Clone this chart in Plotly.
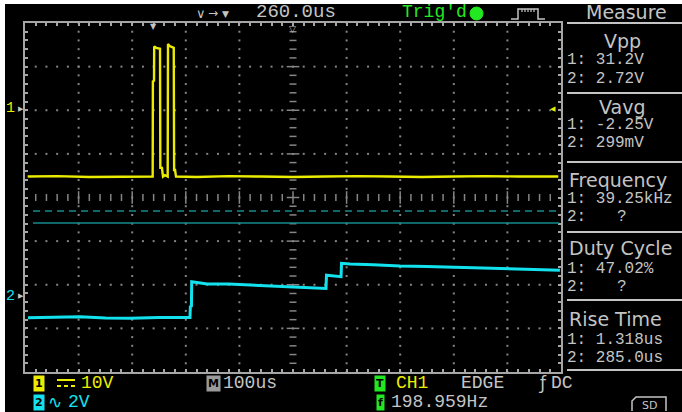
import plotly.graph_objects as go

W, H = 682, 412
PL, PR, PT, PB = 25, 561, 23, 372   # graticule box in pixels

# ---------------- data (read from the screen) ----------------
# screen time base: 100 us/div, 10 div -> 0..1000 us
ch1_time_us = [5, 60, 120, 180, 225, 238.2, 238.6, 240.7, 241.0, 245.0, 251.9, 252.5, 255.5, 257.5,
               261.0, 264.5, 266.2, 266.8, 270.0, 277.5, 278.2, 280.0, 281.7,
               320, 380, 440, 500, 560, 620, 680, 740, 800, 860, 920, 995]
ch1_volts = [-15.5, -15.4, -15.6, -15.5, -15.5, -15.5, 6.3, 6.5, 14.3, 14.0, 13.8, -13.5, -13.5, -15.5,
             -15.2, -15.5, -15.5, 14.9, 14.4, 14.0, -14.0, -14.0, -15.5,
             -15.6, -15.4, -15.5, -15.6, -15.5, -15.4, -15.5, -15.6, -15.5, -15.4, -15.5, -15.5]

ch2_time_us = [5.6, 50, 102.6, 150, 195.9, 250, 300.4, 307.8, 308.5, 310.5, 311.0, 340, 380, 419.8,
               481.3, 520, 559.7, 561.5, 562.5, 589.6, 590.5, 606.3, 650, 699.6, 750, 792.9,
               840, 886.2, 940, 998]
ch2_volts = [-0.99, -0.97, -0.95, -1.00, -1.02, -0.98, -1.00, -0.98, -0.49, -0.45, 0.66, 0.55, 0.55, 0.51,
             0.43, 0.40, 0.35, 0.35, 0.96, 0.89, 1.50, 1.47, 1.44, 1.38, 1.36, 1.33,
             1.29, 1.25, 1.22, 1.19]

ch1_scale_label = "10V"
ch2_scale_label = "2V"
timebase_label = "100us"
delay_label = "260.0us"
trig_freq_label = "198.959Hz"

measure_titles = ["Vpp", "Vavg", "Frequency", "Duty Cycle", "Rise Time"]
measure_ch1 = ["31.2V", "-2.25V", "39.25kHz", "47.02%", "1.318us"]
measure_ch2 = ["2.72V", "299mV", "?", "?", "285.0us"]

# ---------------- style constants ----------------
CH1_POS_DIV, CH1_VDIV = 2.03, 10.0
CH2_POS_DIV, CH2_VDIV = -2.26, 2.0
YEL = "#ecec00"
CYA = "#12e2ee"
GRN = "#22e822"
TXT = "#c4c4c4"
GRID = "#858585"
BORDER = "#a6a6a6"
TEAL = "#148a8c"
MONO = "Liberation Mono"
SANS = "DejaVu Sans"


def px(x):
    return (x - PL) / (PR - PL)


def py(y):
    return (PB - y) / (PB - PT)


fig = go.Figure()

# ---- graticule dots and centre ticks (decoration) ----
dx, dy = [], []
for k in range(-3, 4):
    if k == 0:
        continue
    for i in range(0, 51):
        dx.append(i * 20); dy.append(k)
for c in range(1, 10):
    if c == 5:
        continue
    for j in range(0, 41):
        dx.append(c * 100); dy.append(-4 + j * 0.2)
fig.add_trace(go.Scatter(x=dx, y=dy, mode="markers", hoverinfo="skip",
                         marker=dict(symbol="square", size=2, color=GRID, line=dict(width=0))))

hx_minor = [i * 20 for i in range(1, 50) if i % 5 != 0]
hx_major = [i * 100 for i in range(1, 10)]
fig.add_trace(go.Scatter(x=hx_minor, y=[0] * len(hx_minor), mode="markers", hoverinfo="skip",
                         marker=dict(symbol="line-ns", size=5, line=dict(width=1.5, color=GRID))))
fig.add_trace(go.Scatter(x=hx_major, y=[0] * len(hx_major), mode="markers", hoverinfo="skip",
                         marker=dict(symbol="line-ns", size=9, line=dict(width=1.5, color=GRID))))
vy_minor = [-4 + j * 0.2 for j in range(1, 40) if j % 5 != 0]
vy_major = [k for k in range(-3, 4)]
fig.add_trace(go.Scatter(x=[500] * len(vy_minor), y=vy_minor, mode="markers", hoverinfo="skip",
                         marker=dict(symbol="line-ew", size=5, line=dict(width=1.5, color=GRID))))
fig.add_trace(go.Scatter(x=[500] * len(vy_major), y=vy_major, mode="markers", hoverinfo="skip",
                         marker=dict(symbol="line-ew", size=9, line=dict(width=1.5, color=GRID))))

# ---- channel traces ----
fig.add_trace(go.Scatter(x=ch2_time_us, y=ch2_volts, yaxis="y3", mode="lines",
                         line=dict(color=CYA, width=3), hoverinfo="skip"))
fig.add_trace(go.Scatter(x=ch1_time_us, y=ch1_volts, yaxis="y2", mode="lines",
                         line=dict(color=YEL, width=2.4), hoverinfo="skip"))

shapes = []
# white frame outside the scope screen
shapes.append(dict(type="rect", xref="paper", yref="paper", x0=px(0), x1=px(682), y0=py(0), y1=py(4),
                   fillcolor="white", line=dict(width=0)))
shapes.append(dict(type="rect", xref="paper", yref="paper", x0=px(0), x1=px(5), y0=py(0), y1=py(412),
                   fillcolor="white", line=dict(width=0)))
# teal reference lines
shapes.append(dict(type="line", xref="paper", yref="y", x0=px(33), x1=px(559), y0=-0.31, y1=-0.31,
                   line=dict(color=TEAL, width=1.5, dash="7px,5px")))
shapes.append(dict(type="line", xref="paper", yref="y", x0=px(33), x1=px(559), y0=-0.585, y1=-0.585,
                   line=dict(color=TEAL, width=1.5)))
# measure panel separators
for yy in [23, 93, 162, 232, 300, 370]:
    shapes.append(dict(type="line", xref="paper", yref="paper", x0=px(567), x1=px(682), y0=py(yy), y1=py(yy),
                       line=dict(color=TXT, width=2)))


def P(x, y):
    return f"{px(x):.5f},{py(y):.5f}"


# pulse icon
shapes.append(dict(type="path", xref="paper", yref="paper",
                   path=f"M{P(511,19)} L{P(518,19)} L{P(518,9)} L{P(538,9)} L{P(538,19)} L{P(545,19)}",
                   line=dict(color=TXT, width=1.5)))
teeth = " ".join(f"M{P(x,9)} L{P(x,12)}" for x in [522, 525, 528, 531, 534])
shapes.append(dict(type="path", xref="paper", yref="paper", path=teeth, line=dict(color=TXT, width=1.2)))
# trig'd gear
shapes.append(dict(type="circle", xref="paper", yref="paper", x0=px(470), x1=px(483), y0=py(7), y1=py(20),
                   fillcolor=GRN, line=dict(color=GRN, width=1)))
# DC coupling symbol (solid over dashed)
shapes.append(dict(type="line", xref="paper", yref="paper", x0=px(57), x1=px(75), y0=py(380), y1=py(380),
                   line=dict(color=YEL, width=2)))
shapes.append(dict(type="line", xref="paper", yref="paper", x0=px(57), x1=px(75), y0=py(386), y1=py(386),
                   line=dict(color=YEL, width=2, dash="4px,3px")))
# SD icon
shapes.append(dict(type="path", xref="paper", yref="paper",
                   path=f"M{P(632,411)} L{P(632,401)} L{P(636,397)} L{P(666,397)} L{P(666,411)}",
                   line=dict(color=TXT, width=1.5)))

ann = []


def T(x, y, s, color=TXT, size=17, family=MONO, xa="left"):
    ann.append(dict(x=px(x), y=py(y), xref="paper", yref="paper", text=s, showarrow=False,
                    xanchor=xa, yanchor="middle", font=dict(color=color, size=size, family=family)))


def badge(x, y, s, bg):
    ann.append(dict(x=px(x), y=py(y), xref="paper", yref="paper", text=f"<b>{s}</b>", showarrow=False,
                    xanchor="center", yanchor="middle", bgcolor=bg, borderpad=1,
                    font=dict(color="black", size=11, family=SANS)))


# top bar
T(201, 13, "∨", size=13, family=SANS, xa="center")
T(213, 13, "→", size=12, family=SANS, xa="center")
T(225, 14, "▼", size=9, family=SANS, xa="center")
T(254, 12, delay_label, size=19)
T(400, 12, "Trig'd", color=GRN, size=18)
T(626, 12, "Measure", size=19, family=SANS, xa="center")
# graticule markers
T(153, 27, "▼", size=8, family=SANS, xa="center")
T(292, 29, "▽", size=9, family=SANS, xa="center")
T(10, 109, "1", color=YEL, size=15, xa="center")
T(21, 109, "▶", size=7, family=SANS, xa="center")
T(10, 296, "2", color=CYA, size=15, xa="center")
T(21, 296, "▶", size=7, family=SANS, xa="center")
T(553, 109, "◀", color=YEL, size=7, family=SANS, xa="center")

# measure panel
title_y = [41, 107, 180, 248, 319]
line1_y = [60, 125, 199, 269, 340]
line2_y = [79, 143, 217, 287, 358]
for i, t in enumerate(measure_titles):
    if i < 2:
        T(622, title_y[i], t, size=19, family=SANS, xa="center")
    else:
        T(567, title_y[i], t, size=19, family=SANS)
    T(565, line1_y[i], "1: " + measure_ch1[i], size=16)
    if measure_ch2[i] == "?":
        T(565, line2_y[i], "2:", size=16)
        T(622, line2_y[i], "?", size=16, xa="center")
    else:
        T(565, line2_y[i], "2: " + measure_ch2[i], size=16)

# bottom status bar
badge(39, 383, "1", YEL)
T(79, 383, ch1_scale_label, color=YEL, size=18)
badge(39, 402, "2", CYA)
T(46, 402, "∿", color=CYA, size=17, family=SANS)
T(66, 402, ch2_scale_label, color=CYA, size=18)
badge(213, 383, "M", "#9a9a9a")
T(221, 383, timebase_label, size=18)
badge(380, 383, "T", GRN)
T(394, 383, "CH1", color=YEL, size=18)
T(459, 383, "EDGE", size=18)
T(536, 383, "ƒ", size=17, family=SANS)
T(549, 383, "DC", size=18)
badge(380, 402, "f", GRN)
T(389, 402, trig_freq_label, size=18)
T(649, 405, "SD", size=11, family=SANS, xa="center")

fig.update_layout(
    width=W, height=H,
    margin=dict(l=PL, r=W - PR, t=PT, b=H - PB, pad=0),
    paper_bgcolor="black", plot_bgcolor="black",
    showlegend=False,
    shapes=shapes, annotations=ann,
    xaxis=dict(range=[0, 1000], showgrid=False, zeroline=False, showticklabels=False,
               ticks="inside", dtick=20, tick0=0, ticklen=3, tickwidth=1.5, tickcolor=BORDER,
               showline=True, linecolor=BORDER, linewidth=2, mirror="ticks", fixedrange=True),
    yaxis=dict(range=[-4, 4], showgrid=False, zeroline=False, showticklabels=False,
               ticks="inside", dtick=0.2, tick0=0, ticklen=3, tickwidth=1.5, tickcolor=BORDER,
               showline=True, linecolor=BORDER, linewidth=2, mirror="ticks", fixedrange=True),
    yaxis2=dict(overlaying="y", visible=False, fixedrange=True,
                range=[(-4 - CH1_POS_DIV) * CH1_VDIV, (4 - CH1_POS_DIV) * CH1_VDIV]),
    yaxis3=dict(overlaying="y", visible=False, fixedrange=True,
                range=[(-4 - CH2_POS_DIV) * CH2_VDIV, (4 - CH2_POS_DIV) * CH2_VDIV]),
)

fig.write_html("out.html", config={"displayModeBar": False},
               post_script="document.body.style.margin='0px';document.body.style.overflow='hidden';")
